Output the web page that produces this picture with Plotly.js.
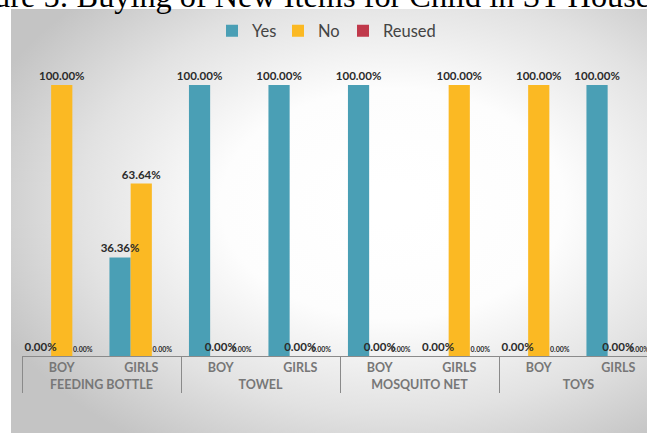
<!DOCTYPE html>
<html>
<head>
<meta charset="utf-8">
<script src="https://cdn.plot.ly/plotly-3.0.1.min.js"></script>
<style>
html,body{margin:0;padding:0;background:#fff;}
#chart{width:647px;height:433px;}
</style>
</head>
<body>
<div id="chart"></div>
<script>
// ---- data ----
const groups = ["FEEDING BOTTLE","FEEDING BOTTLE","TOWEL","TOWEL","MOSQUITO NET","MOSQUITO NET","TOYS","TOYS"];
const subgroups = ["BOY","GIRLS","BOY","GIRLS","BOY","GIRLS","BOY","GIRLS"];
const yesValues = [0, 36.36, 100, 100, 100, 0, 0, 100];
const noValues = [100, 63.64, 0, 0, 0, 100, 100, 0];
const reusedValues = [0, 0, 0, 0, 0, 0, 0, 0];
const seriesNames = ["Yes","No","Reused"];
const titleText = "Figure 5: Buying of New Items for Child in ST Household";

// ---- layout constants ----
const W = 647, H = 433;
const L = 22, R = 0, T = 85, B = 77;
const pw = W - L - R, ph = H - T - B;

// background gradient image
function makeBg(w, h) {
  const c = document.createElement('canvas');
  c.width = w; c.height = h;
  const ctx = c.getContext('2d');
  ctx.fillStyle = '#c4c4c4';
  ctx.fillRect(0, 0, w, h);
  ctx.save();
  ctx.translate(w * 0.6, h * 0.46);
  ctx.scale(1.5, 1);
  const g = ctx.createRadialGradient(0, 0, 20, 0, 0, 290);
  g.addColorStop(0, '#ffffff');
  g.addColorStop(0.35, '#fdfdfd');
  g.addColorStop(0.7, '#e2e2e2');
  g.addColorStop(1, '#c4c4c4');
  ctx.fillStyle = g;
  ctx.fillRect(-w, -h, 2 * w, 2 * h);
  ctx.restore();
  return c.toDataURL('image/png');
}
const bgX0 = 11, bgY0 = 9;
const bgW = W - bgX0, bgH = H - bgY0;

const colors = ['#4a9fb5', '#fbb923', '#c0394b'];
const labelFont = 'Lato, "DejaVu Sans", sans-serif';
const legendIds = ['legend', 'legend2', 'legend3'];
const legendTextX = [252, 318, 383];
const offsetGroups = ['g1', 'g2', 'g3'];
const valueList = [yesValues, noValues, reusedValues];
const labelSizes = [11.5, 11.5, 7];

const data = [];
// visible bars (legend entries)
for (let i = 0; i < 3; i++) {
  data.push({
    type: 'bar',
    name: seriesNames[i],
    x: [groups, subgroups],
    y: valueList[i],
    offsetgroup: offsetGroups[i],
    marker: {color: colors[i]},
    legend: legendIds[i],
    hoverinfo: 'skip'
  });
}
// label layers drawn on top of all bars
for (let i = 0; i < 3; i++) {
  data.push({
    type: 'bar',
    name: seriesNames[i] + ' labels',
    x: [groups, subgroups],
    y: valueList[i],
    offsetgroup: offsetGroups[i],
    marker: {color: 'rgba(0,0,0,0)'},
    texttemplate: '<b>%{y:.2f}%</b>',
    textposition: 'outside',
    constraintext: 'none',
    cliponaxis: false,
    textfont: {family: labelFont, size: labelSizes[i], color: '#2b2b2b'},
    showlegend: false,
    hoverinfo: 'skip'
  });
}

function legendAt(i) {
  return {
    orientation: 'h',
    x: (legendTextX[i] - 40 - L) / pw, xanchor: 'left',
    y: 1 + (T - 31) / ph, yanchor: 'middle',
    font: {family: labelFont, size: 16.5, color: '#444'},
    bgcolor: 'rgba(0,0,0,0)',
    borderwidth: 0,
    itemclick: false
  };
}

const layout = {
  width: W, height: H,
  margin: {l: L, r: R, t: T, b: B, pad: 0},
  paper_bgcolor: '#ffffff',
  plot_bgcolor: 'rgba(0,0,0,0)',
  barmode: 'group',
  bargap: 0.2,
  bargroupgap: 0,
  showlegend: true,
  legend: legendAt(0),
  legend2: legendAt(1),
  legend3: legendAt(2),
  xaxis: {
    type: 'multicategory',
    range: [-0.5, -0.5 + pw / 79.5],
    showline: true, linecolor: '#8a8a8a', linewidth: 1,
    showdividers: true, dividercolor: '#8a8a8a', dividerwidth: 1,
    tickfont: {family: labelFont, size: 12.5, color: '#777777', weight: 'bold'},
    ticks: '', showgrid: false, zeroline: false, fixedrange: true
  },
  yaxis: {
    range: [0, 100],
    visible: false, showgrid: false, zeroline: false, fixedrange: true
  },
  images: [{
    source: makeBg(bgW, bgH),
    xref: 'paper', yref: 'paper',
    x: (bgX0 - L) / pw, y: 1 + (T - bgY0) / ph,
    sizex: bgW / pw, sizey: bgH / ph,
    xanchor: 'left', yanchor: 'top',
    sizing: 'stretch', layer: 'below'
  }],
  annotations: [{
    text: titleText,
    xref: 'paper', yref: 'paper',
    x: (-51 - L) / pw, xanchor: 'left',
    y: 1 + (T - 7) / ph, yanchor: 'bottom',
    yshift: -9,
    showarrow: false,
    font: {family: '"Liberation Serif", "Times New Roman", serif', size: 32.3, color: '#000'}
  }]
};

Plotly.newPlot('chart', data, layout, {displayModeBar: false, staticPlot: true});
</script>
</body>
</html>
